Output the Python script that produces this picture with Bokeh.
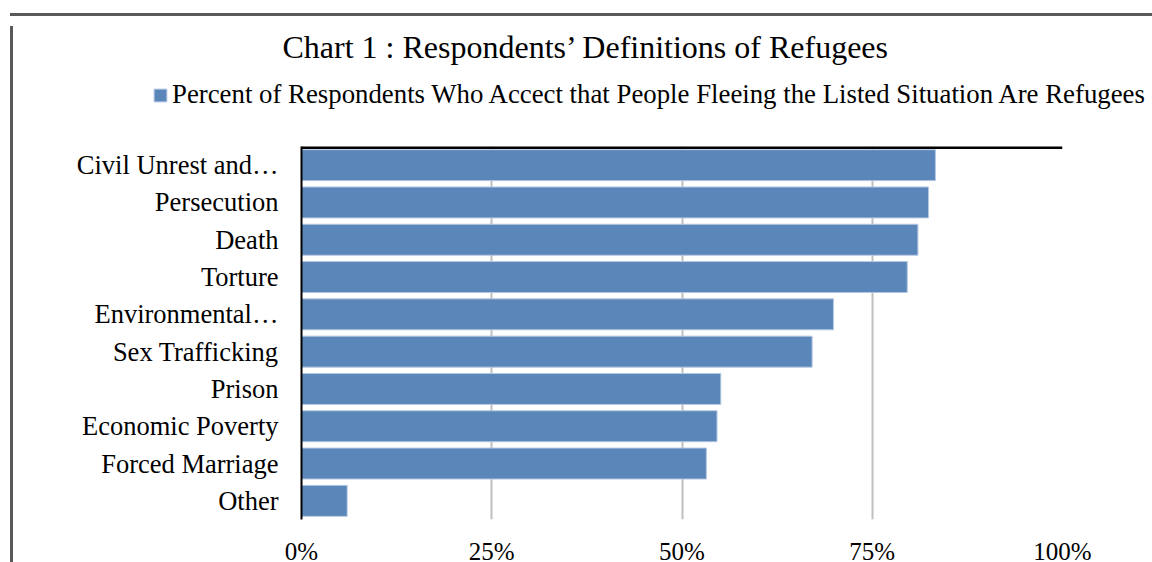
from bokeh.plotting import figure
from bokeh.layouts import column, row
from bokeh.models import (FactorRange, Range1d, Legend, LegendItem, FixedTicker,
                          Span, ColumnDataSource, Div)
from bokeh.embed import file_html
from bokeh.resources import INLINE

title_text = "Chart 1 : Respondents\u2019 Definitions of Refugees"
series_name = "Percent of Respondents Who Accect that People Fleeing the Listed Situation Are Refugees"
categories = ["Civil Unrest and\u2026", "Persecution", "Death", "Torture", "Environmental\u2026",
              "Sex Trafficking", "Prison", "Economic Poverty", "Forced Marriage", "Other"]
values = [83.3, 82.4, 81.0, 79.6, 69.9, 67.1, 55.1, 54.6, 53.2, 6.0]
tick_values = [0, 25, 50, 75, 100]
tick_labels = ["0%", "25%", "50%", "75%", "100%"]

FONT = "Liberation Serif"
BLUE = "#5B86B9"
EDGE = "#B4C8E2"
BORDER = "#595959"

OX, OY = 8, 11      # canvas origin inside the outer chart border
W = 1152 - OX
HEAD_H = 136 - OY   # header (title + legend) height
MAIN_H = 562 - OY - HEAD_H

src = ColumnDataSource(dict(cat=categories, val=values))
yr = FactorRange(factors=list(reversed(categories)), range_padding=0)

# ---------- header: title + legend ----------
head = figure(width=W, height=HEAD_H, output_backend="svg", toolbar_location=None,
              x_range=Range1d(0, 100), y_range=FactorRange(factors=list(reversed(categories))),
              x_axis_location=None, y_axis_location=None, min_border=0)
head.frame_align = False
head.grid.visible = False
head.outline_line_color = None
head.title.text = title_text
head.title.text_font = FONT
head.title.text_font_size = "32px"
head.title.text_font_style = "normal"
head.title.text_color = "black"
head.title.align = "left"
head.title.offset = 272 - OX
head.title.standoff = 10

rh = head.hbar(y="cat", right="val", left=0, height=0.83, source=src,
               fill_color=BLUE, line_color=EDGE, line_width=1, visible=False)
legend = Legend(items=[LegendItem(label=series_name, renderers=[rh])],
                location=(142 - OX, 36), orientation="horizontal",
                label_text_font=FONT, label_text_font_size="26.8px",
                label_text_color="black",
                glyph_width=16, glyph_height=16, label_standoff=4,
                padding=0, margin=0, spacing=0, inactive_fill_alpha=0,
                border_line_color=None, background_fill_alpha=0)
head.add_layout(legend, "center")

# ---------- main bar chart ----------
p = figure(width=W, height=MAIN_H, output_backend="svg", toolbar_location=None,
           y_range=yr, x_range=Range1d(0, 100), title_location=None,
           min_border_left=291 - OX, min_border_right=1152 - 1052, min_border_top=0,
           min_border_bottom=53)
p.frame_align = False

p.hbar(y="cat", right="val", left=0, height=0.83, source=src,
       fill_color=BLUE, line_color=EDGE, line_width=1)

p.outline_line_color = None

p.xaxis.ticker = FixedTicker(ticks=tick_values)
p.xaxis.major_label_overrides = {v: l for v, l in zip(tick_values, tick_labels)}
p.xaxis.axis_line_color = None
p.xaxis.major_tick_line_color = None
p.xaxis.minor_tick_line_color = None
p.xaxis.major_label_text_font = FONT
p.xaxis.major_label_text_font_size = "25px"
p.xaxis.major_label_text_color = "black"
p.xaxis.major_label_standoff = 12

p.yaxis.axis_line_color = "black"
p.yaxis.axis_line_width = 2
p.yaxis.major_tick_line_color = None
p.yaxis.minor_tick_line_color = None
p.yaxis.major_label_text_font = FONT
p.yaxis.major_label_text_font_size = "26.5px"
p.yaxis.major_label_text_color = "black"
p.yaxis.major_label_standoff = 17

p.ygrid.grid_line_color = None
p.xgrid.ticker = FixedTicker(ticks=tick_values[1:])
p.xgrid.grid_line_color = "#BFBFBF"
p.xgrid.grid_line_width = 2

p.add_layout(Span(location=len(categories), dimension="width", line_color="black", line_width=5))

# outer chart border (left and top edges) drawn as thin filled blocks
top_bar = Div(text="", width=W + 3, height=3, styles={"background-color": BORDER})
left_bar = Div(text="", width=3, height=HEAD_H + MAIN_H, styles={"background-color": BORDER})

layout = column(top_bar, row(left_bar, column(head, p, spacing=0), spacing=0), spacing=0)
layout.styles = {"margin-left": "5px", "margin-top": "8px"}

open("out.html", "w").write(file_html(layout, INLINE))
